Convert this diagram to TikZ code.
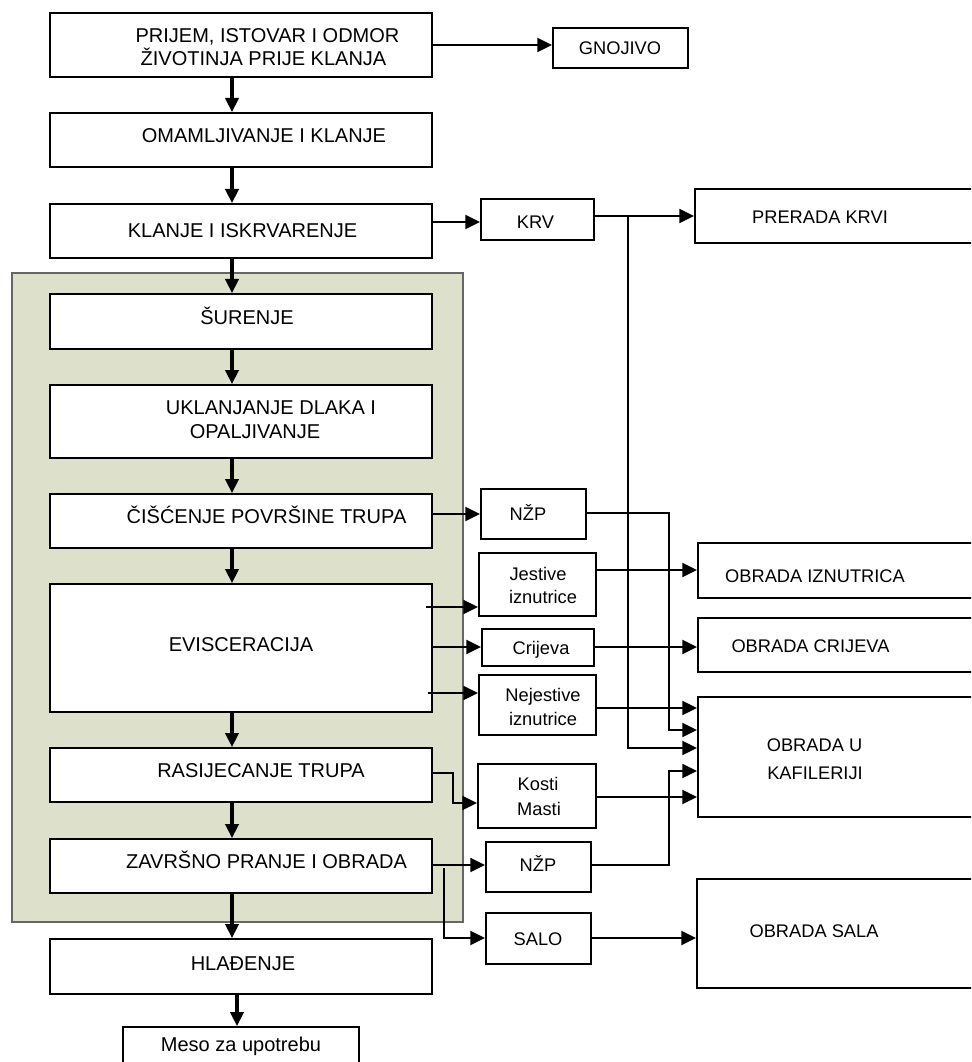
\documentclass[tikz,border=0pt]{standalone}
\usepackage{fontspec}
\setmainfont{Liberation Sans}
\usetikzlibrary{arrows.meta,fit,calc}
\definecolor{panelfill}{HTML}{DDE1CB}
\begin{document}
\begin{tikzpicture}[x=0.75pt,y=-0.75pt,
  box/.style={draw=black, line width=1.5pt, fill=white, inner sep=0pt, rectangle},
  panelbox/.style={draw=black!60, line width=0.8pt, fill=panelfill, inner sep=0pt, rectangle},
  big/.style={font=\fontsize{15pt}{18pt}\selectfont, inner sep=0pt, anchor=base},
  small/.style={font=\fontsize{13.7pt}{16pt}\selectfont, inner sep=0pt, anchor=base},
  arr/.style={line width=1.7pt, -{Triangle[length=11pt,width=10.5pt]}},
  mainarr/.style={line width=2.3pt, -{Triangle[length=10.5pt,width=10pt]}}]
\useasboundingbox (0,0) rectangle (971,1062);
\clip (0,0) rectangle (971,1062);

% panel
\node[panelbox, fit={(12,273)(463,922)}] (panel) {};

% main column boxes
\node[box, fit={(50,13)(432,77)}] (n1) {};
\node[box, fit={(50,113)(432,167)}] (n2) {};
\node[box, fit={(50,204)(432,258)}] (n3) {};
\node[box, fit={(50,294)(432,349)}] (n4) {};
\node[box, fit={(50,385)(432,458)}] (n5) {};
\node[box, fit={(50,494)(432,548)}] (n6) {};
\node[box, fit={(50,584)(432,712)}] (n7) {};
\node[box, fit={(50,748)(432,802)}] (n8) {};
\node[box, fit={(50,839)(432,893)}] (n9) {};
\node[box, fit={(50,939)(432,994)}] (n10) {};
\node[box, fit={(123,1027)(359,1080)}] (n11) {};

% side boxes
\node[box, fit={(553,28)(688,68)}] (g) {};
\node[box, fit={(481,199)(594,240)}] (k) {};
\node[box, fit={(695,189)(995,243)}] (pk) {};
\node[box, fit={(481,489)(586,539)}] (z1) {};
\node[box, fit={(479,553)(596,616)}] (j) {};
\node[box, fit={(698,543)(995,598)}] (oi) {};
\node[box, fit={(482,629)(594,666)}] (c) {};
\node[box, fit={(698,618)(995,672)}] (oc) {};
\node[box, fit={(479,675)(596,735)}] (ne) {};
\node[box, fit={(698,697)(995,817)}] (kaf) {};
\node[box, fit={(478,764)(596,828)}] (km) {};
\node[box, fit={(486,842)(591,892)}] (z2) {};
\node[box, fit={(486,913)(591,964)}] (s) {};
\node[box, fit={(697,879)(995,988)}] (os) {};

% free connector ends
\coordinate (jstart) at (426,607);
\coordinate (nestart) at (428,693);
\coordinate (z2start) at (433,865);
\coordinate (sstart) at (444,868);

% texts
\node[big] (t1a) at (267.5,42.5) {PRIJEM, ISTOVAR I ODMOR};
\node[big] (t1b) at (263.5,65.7) {ŽIVOTINJA PRIJE KLANJA};
\node[big] (t2) at (264,142.7) {OMAMLJIVANJE I KLANJE};
\node[big] (t3) at (242.5,237.3) {KLANJE I ISKRVARENJE};
\node[big] (t4) at (247,324) {ŠURENJE};
\node[big] (t5a) at (271,414) {UKLANJANJE DLAKA I};
\node[big] (t5b) at (255,438.3) {OPALJIVANJE};
\node[big] (t6) at (266.5,523.3) {ČIŠĆENJE POVRŠINE TRUPA};
\node[big] (t7) at (241,651.7) {EVISCERACIJA};
\node[big] (t8) at (261,777.3) {RASIJECANJE TRUPA};
\node[big] (t9) at (266.5,868.3) {ZAVRŠNO PRANJE I OBRADA};
\node[big] (t10) at (243,970.7) {HLAĐENJE};
\node[big] (t11) at (241,1051) {Meso za upotrebu};

\node[small] (tg) at (620,55) {GNOJIVO};
\node[small] (tk) at (535.5,229) {KRV};
\node[small] (tpk) at (820,224) {PRERADA KRVI};
\node[small] (tz1) at (528,520) {NŽP};
\node[small] (tja) at (538,580) {Jestive};
\node[small] (tjb) at (543,603.3) {iznutrice};
\node[small] (toi) at (815,582.7) {OBRADA IZNUTRICA};
\node[small] (tc) at (541,654) {Crijeva};
\node[small] (toc) at (810.5,652.7) {OBRADA CRIJEVA};
\node[small] (tnea) at (543,701) {Nejestive};
\node[small] (tneb) at (543,725) {iznutrice};
\node[small] (tkafa) at (814.5,751.7) {OBRADA U};
\node[small] (tkafb) at (815,779.3) {KAFILERIJI};
\node[small] (tkma) at (538,790) {Kosti};
\node[small] (tkmb) at (539,815.7) {Masti};
\node[small] (tz2) at (538,871.7) {NŽP};
\node[small] (ts) at (538,945.7) {SALO};
\node[small] (tos) at (814,937.3) {OBRADA SALA};

% main vertical arrows
\draw[mainarr] (n1.south -| 232,0) -- (n2.north -| 232,0);
\draw[mainarr] (n2.south -| 232,0) -- (n3.north -| 232,0);
\draw[mainarr] (n3.south -| 232,0) -- (n4.north -| 232,0);
\draw[mainarr] (n4.south -| 232,0) -- (n5.north -| 232,0);
\draw[mainarr] (n5.south -| 232,0) -- (n6.north -| 232,0);
\draw[mainarr] (n6.south -| 232,0) -- (n7.north -| 232,0);
\draw[mainarr] (n7.south -| 232,0) -- (n8.north -| 232,0);
\draw[mainarr] (n8.south -| 232,0) -- (n9.north -| 232,0);
\draw[mainarr] (n9.south -| 232,0) -- (n10.north -| 232,0);
\draw[mainarr] (n10.south -| 237,0) -- (n11.north -| 237,0);

% side connectors
\draw[arr] (n1.east |- 0,45) -- (g.west |- 0,45);
\draw[arr] (n3.east |- 0,222) -- (k.west |- 0,222);
\draw[arr] (k.east |- 0,216) -- (pk.west |- 0,216);
\draw[arr] (k.east |- 0,216) -- (628,216) -- (628,748) -- (kaf.west |- 0,748);
\draw[arr] (n6.east |- 0,514) -- (z1.west |- 0,514);
\draw[arr] (z1.east |- 0,513) -- (669,513) -- (669,730) -- (kaf.west |- 0,730);
\draw[arr] (jstart) -- (j.west |- jstart);
\draw[arr] (j.east |- 0,570) -- (oi.west |- 0,570);
\draw[arr] (n7.east |- 0,647) -- (c.west |- 0,647);
\draw[arr] (c.east |- 0,647) -- (oc.west |- 0,647);
\draw[arr] (nestart) -- (ne.west |- nestart);
\draw[arr] (ne.east |- 0,708) -- (kaf.west |- 0,708);
\draw[arr] (n8.east |- 0,773) -- (453,773) -- (453,803) -- (km.west |- 0,803);
\draw[arr] (km.east |- 0,797) -- (kaf.west |- 0,797);
\draw[arr] (z2start) -- (z2.west |- z2start);
\draw[arr] (z2.east |- 0,865) -- (669,865) -- (669,771) -- (kaf.west |- 0,771);
\draw[arr] (sstart) -- (444,938) -- (s.west |- 0,938);
\draw[arr] (s.east |- 0,938) -- (os.west |- 0,938);
\end{tikzpicture}
\end{document}
